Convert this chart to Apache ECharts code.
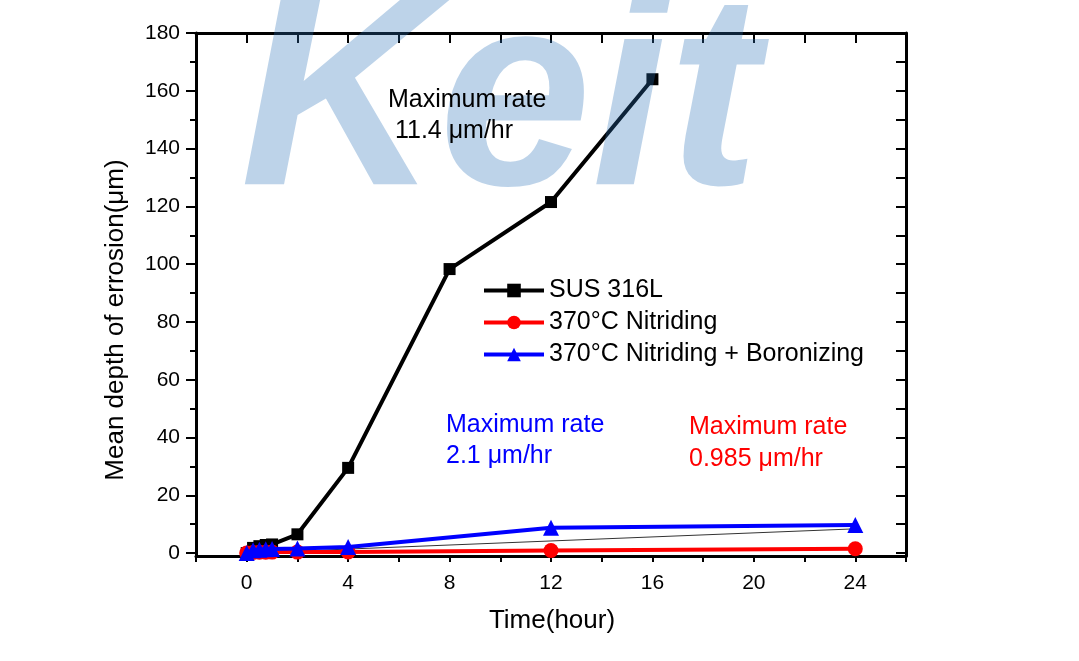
<!DOCTYPE html>
<html>
<head>
<meta charset="utf-8">
<title>Mean depth of errosion</title>
<script src="https://cdn.jsdelivr.net/npm/echarts@6/dist/echarts.min.js"></script>
<style>
  html, body { margin: 0; padding: 0; background: #fff; }
  #chart { width: 1079px; height: 661px; }
</style>
</head>
<body>
<div id="chart"></div>
<script>
// data
const susTime = [0, 0.25, 0.5, 0.75, 1, 2, 4, 8, 12, 16];
const susDepth = [0, 1.8, 2.4, 2.8, 3.0, 6.5, 29.5, 98.3, 121.5, 164];

const nitTime = [0, 0.25, 0.5, 0.75, 1, 2, 4, 12, 24];
const nitDepth = [0, 0.2, 0.3, 0.3, 0.35, 0.35, 0.4, 0.9, 1.5];

const borTime = [0, 0.25, 0.5, 0.75, 1, 2, 4, 12, 24];
const borDepth = [0, 1.0, 1.2, 1.3, 1.4, 1.6, 2.1, 8.8, 9.7];

// thin guide line
const guideTime = [0, 24];
const guideDepth = [0, 8.4];

const xLabels = [0, 4, 8, 12, 16, 20, 24];
const yLabels = [0, 20, 40, 60, 80, 100, 120, 140, 160, 180];
const yMinor = [10, 30, 50, 70, 90, 110, 130, 150, 170];
const yAll = [0, 10, 20, 30, 40, 50, 60, 70, 80, 90, 100, 110, 120, 130, 140, 150, 160, 170, 180];

const seriesNames = ["SUS 316L", "370\u00b0C Nitriding", "370\u00b0C Nitriding + Boronizing"];

function pairs(xs, ys) {
  let out = [];
  for (let i = 0; i < xs.length; i++) {
    out.push([xs[i], ys[i]]);
  }
  return out;
}

const font = '"Liberation Sans", Arial, sans-serif';

var dom = document.getElementById("chart");
var myChart = echarts.init(dom, null, { renderer: "canvas" });

var option = {
  animation: false,
  grid: { left: 196, right: 173, top: 33, bottom: 105 },
  legend: {
    data: seriesNames,
    orient: "vertical",
    left: 482,
    top: 278,
    padding: 0,
    itemWidth: 60,
    itemHeight: 17,
    itemGap: 7,
    lineStyle: { width: 4 },
    textStyle: { fontFamily: font, fontSize: 25, color: "#000", lineHeight: 25 },
  },
  xAxis: [
    {
      type: "value",
      position: "bottom",
      min: -2,
      max: 26,
      interval: 2,
      splitLine: { show: false },
      axisLine: { onZero: false, lineStyle: { color: "#000", width: 3 } },
      axisTick: { inside: false, length: 6, lineStyle: { color: "#000", width: 2 } },
      axisLabel: {
        customValues: xLabels,
        margin: 17,
        fontFamily: font,
        fontSize: 21,
        color: "#000",
      },
    },
    {
      type: "value",
      position: "top",
      min: -2,
      max: 26,
      interval: 2,
      splitLine: { show: false },
      axisLine: { onZero: false, lineStyle: { color: "#000", width: 3 } },
      axisTick: { inside: true, length: 10, lineStyle: { color: "#000", width: 2 } },
      axisLabel: { show: false },
    },
  ],
  yAxis: [
    {
      type: "value",
      position: "left",
      min: -1,
      max: 180,
      splitLine: { show: false },
      axisLine: { onZero: false, lineStyle: { color: "#000", width: 3 } },
      axisTick: { customValues: yLabels, length: 10, lineStyle: { color: "#000", width: 2 } },
      axisLabel: {
        customValues: yLabels,
        margin: 16,
        fontFamily: font,
        fontSize: 21,
        color: "#000",
      },
    },
    {
      type: "value",
      position: "left",
      min: -1,
      max: 180,
      splitLine: { show: false },
      axisLine: { show: false, onZero: false },
      axisTick: { customValues: yMinor, length: 6, lineStyle: { color: "#000", width: 2 } },
      axisLabel: { show: false },
    },
    {
      type: "value",
      position: "right",
      min: -1,
      max: 180,
      splitLine: { show: false },
      axisLine: { show: true, onZero: false, lineStyle: { color: "#000", width: 3 } },
      axisTick: { customValues: yAll, inside: true, length: 10, lineStyle: { color: "#000", width: 2 } },
      axisLabel: { show: false },
    },
  ],
  series: [
    {
      name: seriesNames[0],
      type: "line",
      data: pairs(susTime, susDepth),
      symbol: "rect",
      symbolSize: 12,
      itemStyle: { color: "#000" },
      lineStyle: { color: "#000", width: 4 },
      z: 3,
    },
    {
      name: "guide",
      type: "line",
      data: pairs(guideTime, guideDepth),
      symbol: "none",
      lineStyle: { color: "#333", width: 1 },
      z: 2,
    },
    {
      name: seriesNames[1],
      type: "line",
      data: pairs(nitTime, nitDepth),
      symbol: "circle",
      symbolSize: 15,
      itemStyle: { color: "#ff0000" },
      lineStyle: { color: "#ff0000", width: 4 },
      z: 3,
    },
    {
      name: seriesNames[2],
      type: "line",
      data: pairs(borTime, borDepth),
      symbol: "triangle",
      symbolSize: 16,
      itemStyle: { color: "#0000ff" },
      lineStyle: { color: "#0000ff", width: 4 },
      z: 4,
    },
  ],
  graphic: [
    {
      type: "text",
      silent: true,
      z: 100,
      x: 240,
      y: 246,
      style: {
        text: "Keit",
        font: 'italic bold 275px "Liberation Sans", Arial, sans-serif',
        fill: "rgba(41,112,184,0.31)",
        textVerticalAlign: "bottom",
      },
    },
    {
      type: "text",
      x: 552,
      y: 621,
      style: {
        text: "Time(hour)",
        font: '26px "Liberation Sans", Arial, sans-serif',
        fill: "#000",
        textAlign: "center",
        textVerticalAlign: "middle",
      },
    },
    {
      type: "text",
      x: 116,
      y: 320,
      rotation: Math.PI / 2,
      style: {
        text: "Mean depth of errosion(\u03bcm)",
        font: '26px "Liberation Sans", Arial, sans-serif',
        fill: "#000",
        textAlign: "center",
        textVerticalAlign: "middle",
      },
    },
    {
      type: "text",
      x: 388,
      y: 116,
      z: 101,
      style: {
        text: "Maximum rate\n 11.4 \u03bcm/hr",
        font: '25px "Liberation Sans", Arial, sans-serif',
        fill: "#000",
        lineHeight: 31,
        textVerticalAlign: "middle",
      },
    },
    {
      type: "text",
      x: 446,
      y: 441,
      style: {
        text: "Maximum rate\n2.1 \u03bcm/hr",
        font: '25px "Liberation Sans", Arial, sans-serif',
        fill: "#0000ff",
        lineHeight: 31,
        textVerticalAlign: "middle",
      },
    },
    {
      type: "text",
      x: 689,
      y: 443,
      style: {
        text: "Maximum rate\n0.985 \u03bcm/hr",
        font: '25px "Liberation Sans", Arial, sans-serif',
        fill: "#ff0000",
        lineHeight: 32,
        textVerticalAlign: "middle",
      },
    },
  ],
};

myChart.setOption(option);
window.addEventListener("resize", myChart.resize);
</script>
</body>
</html>
